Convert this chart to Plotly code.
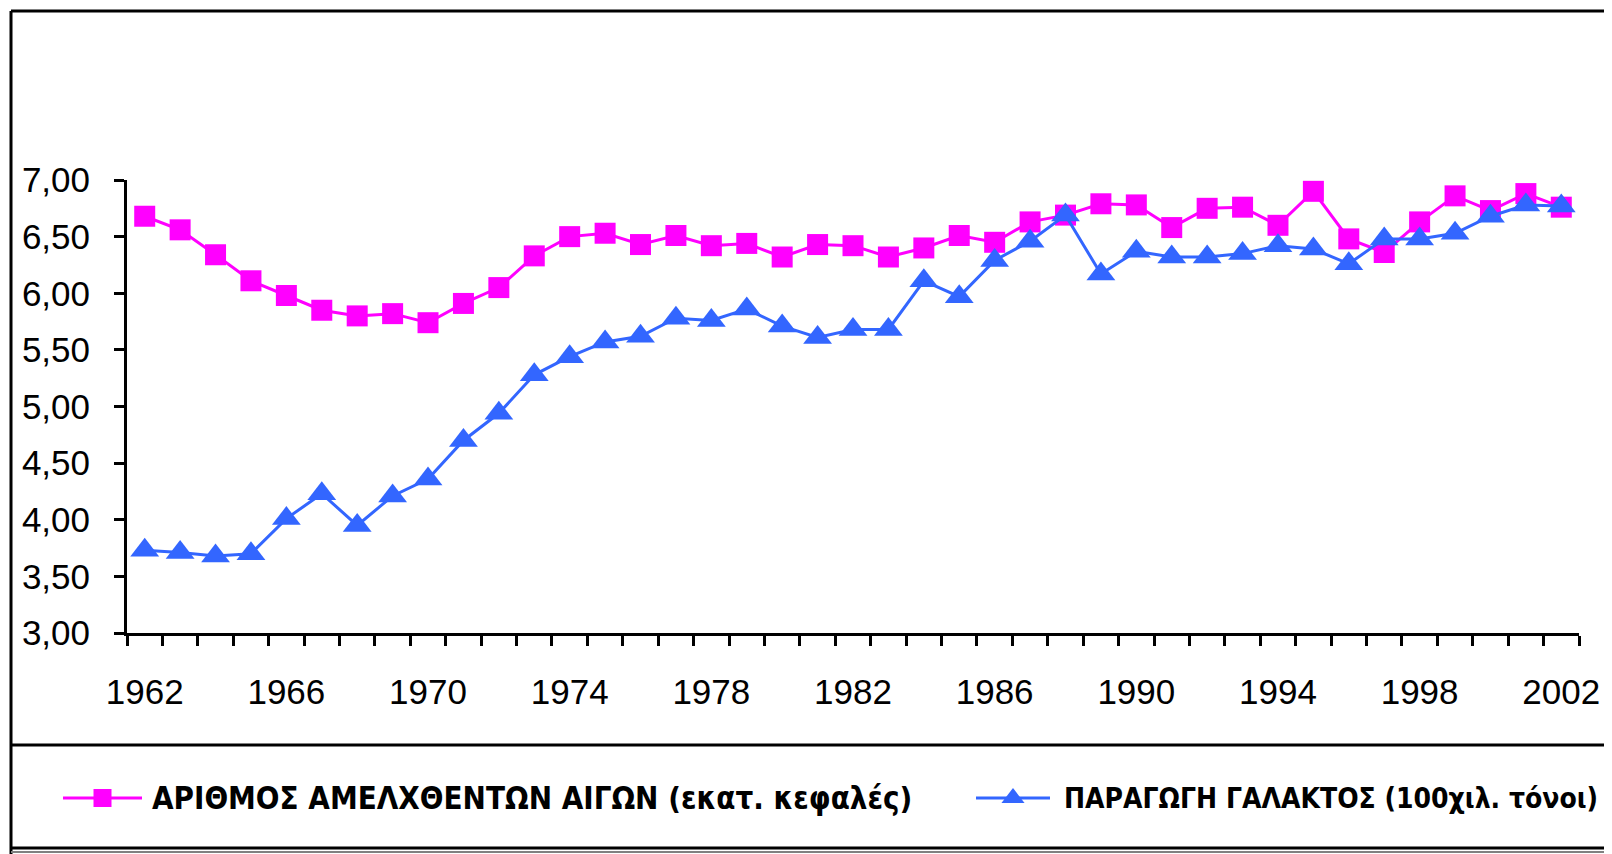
import plotly.graph_objects as go

years = list(range(1962, 2003))
goats = [6.68, 6.56, 6.34, 6.11, 5.98, 5.85, 5.80, 5.82, 5.74, 5.91,
         6.05, 6.33, 6.50, 6.53, 6.43, 6.51, 6.42, 6.44, 6.32, 6.43,
         6.42, 6.32, 6.40, 6.51, 6.45, 6.63, 6.69, 6.79, 6.78, 6.58,
         6.75, 6.76, 6.60, 6.90, 6.48, 6.36, 6.63, 6.86, 6.73, 6.88, 6.76]
milk = [3.73, 3.71, 3.68, 3.70, 4.01, 4.23, 3.95, 4.21, 4.36, 4.70,
        4.94, 5.28, 5.44, 5.57, 5.62, 5.78, 5.76, 5.86, 5.71, 5.61,
        5.68, 5.68, 6.11, 5.97, 6.29, 6.46, 6.69, 6.17, 6.37, 6.32,
        6.32, 6.35, 6.42, 6.39, 6.26, 6.48, 6.48, 6.53, 6.68, 6.78, 6.77]
label_years = list(range(1962, 2003, 4))
y_ticks = [3.0, 3.5, 4.0, 4.5, 5.0, 5.5, 6.0, 6.5, 7.0]
name_goats = "ΑΡΙΘΜΟΣ ΑΜΕΛΧΘΕΝΤΩΝ ΑΙΓΩΝ (εκατ. κεφαλές)"
name_milk = "ΠΑΡΑΓΩΓΗ ΓΑΛΑΚΤΟΣ (100χιλ. τόνοι)"

PINK = "#FF00FF"
BLUE = "#3366FF"
W, H = 1612, 854
# page body adds an 8px offset; positions below are figure pixels
X0, X1 = 119, 1571
Y0, Y1 = 172, 625

fig = go.Figure()
fig.add_trace(go.Scatter(x=years, y=goats, mode="lines+markers", name=name_goats,
                         line=dict(color=PINK, width=3),
                         marker=dict(symbol="square", size=21, color=PINK),
                         showlegend=False))
fig.add_trace(go.Scatter(x=years, y=milk, mode="lines+markers", name=name_milk,
                         line=dict(color=BLUE, width=3),
                         marker=dict(symbol="triangle-up", size=25, color=BLUE),
                         showlegend=False))

# custom legend drawn on a full-page pixel axis pair
leg_y = 790
FAM = "Liberation Sans Narrow, DejaVu Sans Condensed, Arial Narrow, sans-serif"
leg_items = [(55, 134, 142, PINK, "square", 18, name_goats, 31),
             (968, 1042, 1054, BLUE, "triangle-up", 20, name_milk, 28)]
for xa, xb, xt, col, sym, sz, txt, fs in leg_items:
    fig.add_trace(go.Scatter(x=[xa, xb], y=[leg_y, leg_y], mode="lines",
                             line=dict(color=col, width=3), xaxis="x2", yaxis="y2",
                             showlegend=False, hoverinfo="skip"))
    fig.add_trace(go.Scatter(x=[(xa + xb) / 2], y=[leg_y], mode="markers",
                             marker=dict(symbol=sym, size=sz, color=col),
                             xaxis="x2", yaxis="y2", showlegend=False, hoverinfo="skip"))
    fig.add_annotation(x=xt, y=leg_y, xref="x2", yref="y2", text="<b>" + txt + "</b>",
                       showarrow=False, xanchor="left", yanchor="middle",
                       font=dict(family=FAM, size=fs, color="black"))

# frame lines
for shp in [dict(x0=3, x1=1700, y0=3, y1=3), dict(x0=3, x1=3, y0=3, y1=900),
            dict(x0=3, x1=1700, y0=737, y1=737), dict(x0=3, x1=1700, y0=840, y1=840)]:
    fig.add_shape(type="line", xref="x2", yref="y2", line=dict(color="black", width=3), **shp)
fig.add_shape(type="line", xref="x2", yref="y2", x0=3, x1=1700, y0=844, y1=844,
              line=dict(color="#808080", width=2))

fig.update_layout(
    width=W, height=H, margin=dict(l=0, r=0, t=0, b=0, autoexpand=False),
    paper_bgcolor="white", plot_bgcolor="rgba(0,0,0,0)",
    separators=",.",
    font=dict(family="Liberation Sans, Arial, sans-serif", color="black"),
    xaxis=dict(domain=[X0 / W, X1 / W], range=[1961.5, 2002.5], anchor="y",
               tickvals=label_years, ticktext=[str(v) for v in label_years],
               ticks="", showgrid=False, zeroline=False, automargin=False,
               showline=True, linecolor="black", linewidth=3,
               tickfont=dict(size=35), ticklabelstandoff=26,
               minor=dict(tickmode="linear", tick0=1961.5, dtick=1, ticks="outside",
                          ticklen=10, tickwidth=3, tickcolor="black", showgrid=False)),
    yaxis=dict(domain=[(H - Y1) / H, (H - Y0) / H], range=[3, 7], anchor="x",
               tickvals=y_ticks, tickformat=".2f",
               ticks="outside", ticklen=10, tickwidth=3, tickcolor="black",
               showgrid=False, zeroline=False, automargin=False,
               showline=True, linecolor="black", linewidth=3,
               tickfont=dict(size=35), ticklabelstandoff=17),
    xaxis2=dict(domain=[0, 1], range=[0, W], visible=False, anchor="y2", automargin=False),
    yaxis2=dict(domain=[0, 1], range=[H, 0], visible=False, anchor="x2", automargin=False),
)

fig.write_html("out.html")
